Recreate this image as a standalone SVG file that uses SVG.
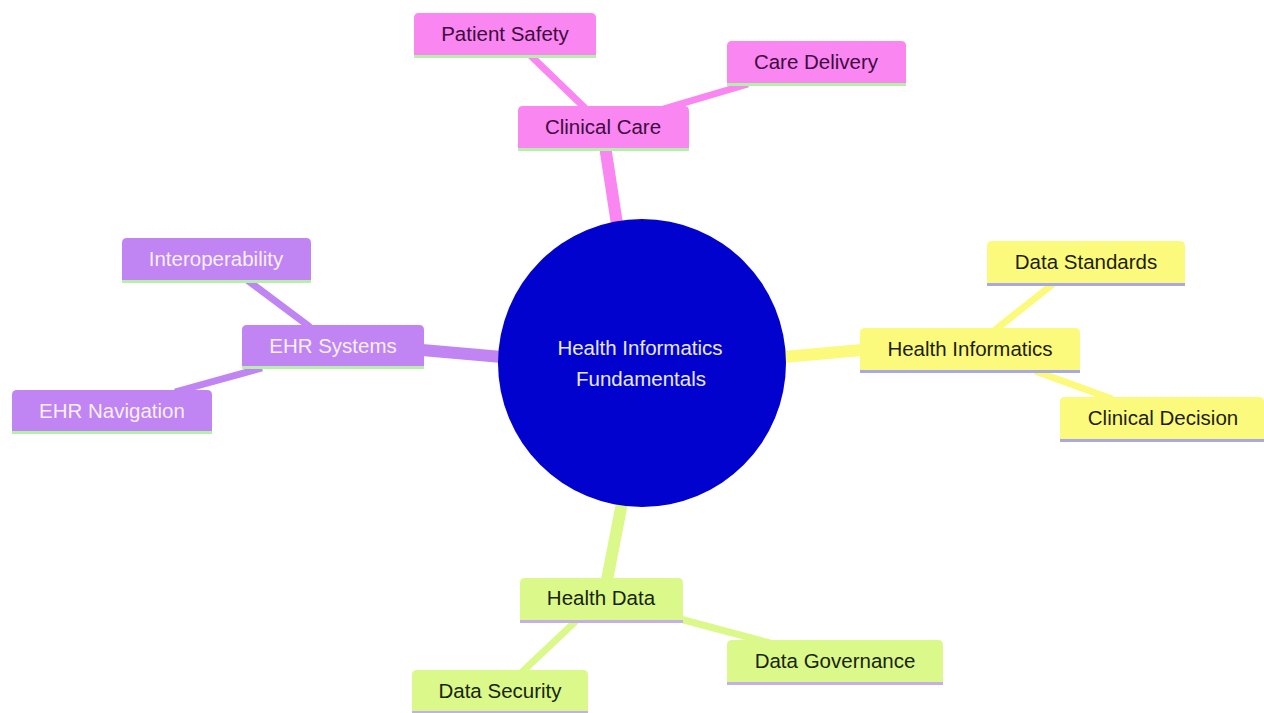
<svg xmlns="http://www.w3.org/2000/svg" width="1264" height="713" viewBox="0 0 1264 713">
<style>
text{font-family:"Liberation Sans",Arial,sans-serif;font-size:20.5px;text-anchor:middle}
.pk{fill:#f986f1}.pkt{fill:#3f0b40}
.pu{fill:#c084f3}.put{fill:#f6f0ff}
.ye{fill:#fbfa7c}.yet{fill:#1e1e10}
.gr{fill:#dbf98a}.grt{fill:#18240c}
.lg{fill:#b4f0a8}.lb{fill:#a8a8e4}.lv{fill:#c4b0e4}
.e{fill:none;stroke-linecap:butt}
.m{stroke-width:12}.s{stroke-width:7}
</style>
<rect width="1264" height="713" fill="#ffffff"/>
<g id="connectors">
<line class="e m" stroke="#f986f1" x1="605" y1="146" x2="617" y2="224"/>
<line class="e s" stroke="#f986f1" x1="530" y1="55" x2="585" y2="108"/>
<line class="e s" stroke="#f986f1" x1="748" y1="84" x2="660" y2="110"/>
<line class="e m" stroke="#c084f3" x1="422" y1="350" x2="502" y2="357"/>
<line class="e s" stroke="#c084f3" x1="247" y1="280" x2="310" y2="327"/>
<line class="e s" stroke="#c084f3" x1="175" y1="392" x2="262" y2="368"/>
<line class="e m" stroke="#fbfa7c" x1="783" y1="357" x2="862" y2="350"/>
<line class="e s" stroke="#fbfa7c" x1="1053" y1="284" x2="995" y2="330"/>
<line class="e s" stroke="#fbfa7c" x1="1035" y1="371" x2="1112" y2="399"/>
<line class="e m" stroke="#dbf98a" x1="622" y1="503" x2="607" y2="580"/>
<line class="e s" stroke="#dbf98a" x1="576" y1="621" x2="522" y2="672"/>
<line class="e s" stroke="#dbf98a" x1="680" y1="619" x2="770" y2="643"/>
</g>
<g id="root">
<circle cx="642" cy="363" r="144" fill="#0202cf"/>
<text x="640" y="355" fill="#e8e8f8">Health Informatics</text>
<text x="641" y="386" fill="#e8e8f8">Fundamentals</text>
</g>
<g id="clinical-care">
<path class="pk" d="M518,148V111Q518,106 523,106H684Q689,106 689,111V148Z"/>
<rect class="lg" x="518" y="148" width="171" height="3"/>
<text class="pkt" x="603" y="134">Clinical Care</text>
</g>
<g id="patient-safety">
<path class="pk" d="M414,55V18Q414,13 419,13H591Q596,13 596,18V55Z"/>
<rect class="lg" x="414" y="55" width="182" height="3"/>
<text class="pkt" x="505" y="41">Patient Safety</text>
</g>
<g id="care-delivery">
<path class="pk" d="M727,83V46Q727,41 732,41H901Q906,41 906,46V83Z"/>
<rect class="lg" x="727" y="83" width="179" height="3"/>
<text class="pkt" x="816" y="69">Care Delivery</text>
</g>
<g id="ehr-systems">
<path class="pu" d="M242,366V330Q242,325 247,325H419Q424,325 424,330V366Z"/>
<rect class="lg" x="242" y="366" width="182" height="3"/>
<text class="put" x="333" y="353">EHR Systems</text>
</g>
<g id="interoperability">
<path class="pu" d="M122,280V243Q122,238 127,238H306Q311,238 311,243V280Z"/>
<rect class="lg" x="122" y="280" width="189" height="3"/>
<text class="put" x="216" y="266">Interoperability</text>
</g>
<g id="ehr-navigation">
<path class="pu" d="M12,431V395Q12,390 17,390H207Q212,390 212,395V431Z"/>
<rect class="lg" x="12" y="431" width="200" height="3"/>
<text class="put" x="112" y="418">EHR Navigation</text>
</g>
<g id="health-informatics">
<path class="ye" d="M860,370V333Q860,328 865,328H1075Q1080,328 1080,333V370Z"/>
<rect class="lb" x="860" y="370" width="220" height="3"/>
<text class="yet" x="970" y="356">Health Informatics</text>
</g>
<g id="data-standards">
<path class="ye" d="M987,283V246Q987,241 992,241H1180Q1185,241 1185,246V283Z"/>
<rect class="lb" x="987" y="283" width="198" height="3"/>
<text class="yet" x="1086" y="269">Data Standards</text>
</g>
<g id="clinical-decision">
<path class="ye" d="M1060,439V402Q1060,397 1065,397H1259Q1264,397 1264,402V439Z"/>
<rect class="lb" x="1060" y="439" width="204" height="3"/>
<text class="yet" x="1163" y="425">Clinical Decision</text>
</g>
<g id="health-data">
<path class="gr" d="M520,620V583Q520,578 525,578H678Q683,578 683,583V620Z"/>
<rect class="lv" x="520" y="620" width="163" height="3"/>
<text class="grt" x="601" y="605">Health Data</text>
</g>
<g id="data-governance">
<path class="gr" d="M727,682V645Q727,640 732,640H938Q943,640 943,645V682Z"/>
<rect class="lv" x="727" y="682" width="216" height="3"/>
<text class="grt" x="835" y="668">Data Governance</text>
</g>
<g id="data-security">
<path class="gr" d="M412,711V675Q412,670 417,670H583Q588,670 588,675V711Z"/>
<rect class="lv" x="412" y="711" width="176" height="2"/>
<text class="grt" x="500" y="698">Data Security</text>
</g>
</svg>
